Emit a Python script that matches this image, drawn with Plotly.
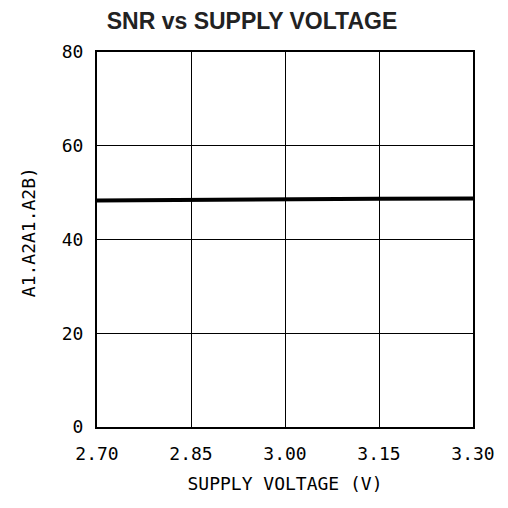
"""
    SNR vs Supply Voltage
"""
import plotly.graph_objects as go

# Data
SUPPLY_V = [2.70, 2.85, 3.00, 3.15, 3.30]
SNR_DB = [48.3, 48.5, 48.6, 48.7, 48.75]

X_TICKS = [2.70, 2.85, 3.00, 3.15, 3.30]
X_LABELS = ["2.70", "2.85", "3.00", "3.15", "3.30"]
Y_TICKS = [0, 20, 40, 60, 80]

TICK_FONT = dict(family="DejaVu Sans Mono", size=18, color="black")

fig = go.Figure()
fig.add_trace(go.Scatter(x=SUPPLY_V, y=SNR_DB, mode="lines",
                         line=dict(color="black", width=4),
                         showlegend=False))

# page body has an 8px margin, so margins are shifted by 8
fig.update_layout(
    width=508, height=508,
    margin=dict(l=89, r=43, t=44, b=89),
    paper_bgcolor="white", plot_bgcolor="white",
    title=dict(text="<b>SNR vs SUPPLY VOLTAGE</b>",
               font=dict(family="Liberation Sans", size=23, color="#222"),
               x=244 / 508, xref="container", xanchor="center",
               y=1 - 13 / 508, yref="container", yanchor="middle"),
)

fig.update_xaxes(range=[2.70, 3.30], tickvals=X_TICKS, ticktext=X_LABELS,
                 tickfont=TICK_FONT, ticks="", ticklabelstandoff=9,
                 showgrid=True, gridcolor="black", gridwidth=1,
                 showline=True, linecolor="black", linewidth=2, mirror=True,
                 zeroline=False, automargin=False,
                 title=dict(text="SUPPLY VOLTAGE (V)", font=TICK_FONT, standoff=15))
fig.update_yaxes(range=[0, 80], tickvals=Y_TICKS,
                 tickfont=TICK_FONT, ticks="", ticklabelstandoff=8,
                 showgrid=True, gridcolor="black", gridwidth=1,
                 showline=True, linecolor="black", linewidth=2, mirror=True,
                 zeroline=False, automargin=False)

# y title placed a bit above the plot centre, as in the reference
fig.add_annotation(text="A1.A2A1.A2B)", font=TICK_FONT, textangle=-90,
                   xref="paper", yref="paper", x=-0.183, y=0.52,
                   xanchor="center", yanchor="middle", showarrow=False)

fig.write_html("out.html")
